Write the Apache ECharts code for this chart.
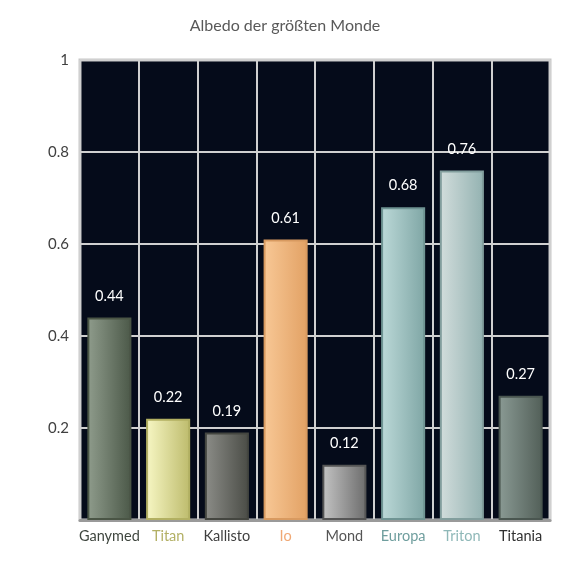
<!DOCTYPE html>
<html>
<head>
<meta charset="utf-8">
<script src="https://cdn.jsdelivr.net/npm/echarts@6/dist/echarts.min.js"></script>
<style>
  html, body { margin: 0; padding: 0; background: #fff; }
  #chart { width: 570px; height: 570px; }
</style>
</head>
<body>
<div id="chart"></div>
<script>
// data
const moons = ['Ganymed', 'Titan', 'Kallisto', 'Io', 'Mond', 'Europa', 'Triton', 'Titania'];
const albedo = [0.44, 0.22, 0.19, 0.61, 0.12, 0.68, 0.76, 0.27];
// bar gradient: light left, dark right, border
const lightColors = ['#8f9c8c', '#f7f7c4', '#8c8d88', '#f8c896', '#c4c4c4', '#bcd9d8', '#d2dddc', '#8a9a94'];
const darkColors = ['#4b5848', '#bdbb6c', '#4a4c46', '#e2a164', '#6c6c6c', '#7fa6a5', '#93b2b1', '#525f58'];
const borderColors = ['#4a5545', '#b2b062', '#444640', '#d89a60', '#555555', '#6f9493', '#829e9d', '#4a5650'];
const labelColors = ['#3f463f', '#b3b065', '#3f3f3f', '#f0a874', '#555555', '#6f9e9e', '#8fb8b8', '#303030'];

const chart = echarts.init(document.getElementById('chart'));

const barData = albedo.map((v, i) => ({
  value: v,
  itemStyle: {
    color: new echarts.graphic.LinearGradient(0, 0, 1, 0, [
      { offset: 0, color: lightColors[i] },
      { offset: 1, color: darkColors[i] }
    ]),
    borderColor: borderColors[i],
    borderWidth: 2
  }
}));

chart.setOption({
  animation: false,
  title: {
    text: 'Albedo der größten Monde',
    left: 'center',
    top: 13,
    textStyle: { color: '#595959', fontSize: 16, fontWeight: 'normal', fontFamily: 'Lato' }
  },
  grid: {
    left: 80, right: 20, top: 60, bottom: 50,
    show: true,
    backgroundColor: '#050b1a',
    borderColor: '#c8c8c8',
    borderWidth: 3
  },
  xAxis: {
    type: 'category',
    data: moons,
    axisTick: { show: false },
    axisLine: { lineStyle: { color: '#9a9a9a', width: 3 } },
    splitLine: { show: true, interval: 0, lineStyle: { color: '#d0d0d0', width: 2 } },
    axisLabel: {
      interval: 0,
      fontSize: 14.5,
      fontFamily: 'Lato',
      margin: 9,
      color: (val, idx) => labelColors[moons.indexOf(val)]
    }
  },
  yAxis: {
    type: 'value',
    min: 0,
    max: 1,
    interval: 0.2,
    axisLine: { show: false },
    axisTick: { show: false },
    splitLine: { lineStyle: { color: '#d0d0d0', width: 2 } },
    axisLabel: {
      color: '#404040',
      fontSize: 15,
      fontFamily: 'Lato',
      margin: 11,
      formatter: v => (v === 0 ? '' : String(v))
    }
  },
  series: [{
    type: 'bar',
    data: barData,
    barWidth: '75%',
    label: {
      show: true,
      position: 'top',
      distance: 14,
      color: '#ffffff',
      fontSize: 14.5,
      fontFamily: 'Lato'
    }
  }]
});
</script>
</body>
</html>
